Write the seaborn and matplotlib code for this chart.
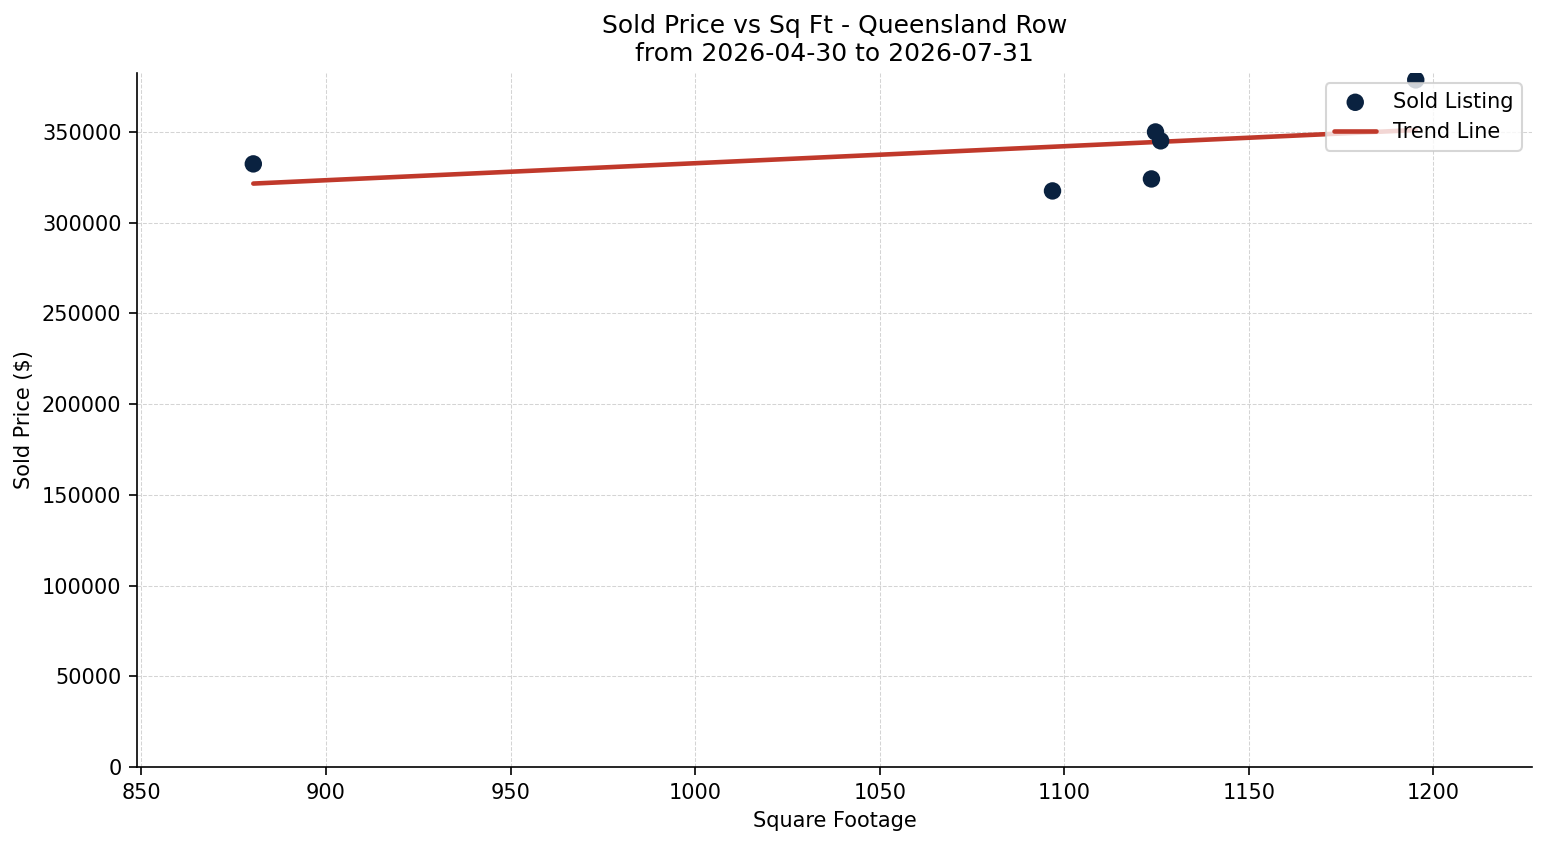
import numpy as np
import pandas as pd
import matplotlib
matplotlib.use("Agg")
import matplotlib.pyplot as plt
import seaborn as sns

# Sold listings
sqft = [880.3, 1096.8, 1123.6, 1124.7, 1126.1, 1195.2]
sold_price = [332400, 317500, 324100, 350000, 345100, 378700]

df = pd.DataFrame({"sqft": sqft, "price": sold_price})

sns.set_style("white", rc={
    "text.color": "black",
    "axes.labelcolor": "black",
    "xtick.color": "black",
    "ytick.color": "black",
    "axes.edgecolor": "black",
})
plt.rcParams["font.family"] = ["DejaVu Sans"]

fig, ax = plt.subplots(figsize=(1547 / 150, 845 / 150), dpi=150)

sns.scatterplot(data=df, x="sqft", y="price", ax=ax, color="#0a2240",
                s=70, edgecolor="none", label="Sold Listing", zorder=3)

# Linear trend
slope, intercept = np.polyfit(df["sqft"], df["price"], 1)
x_line = np.array([df["sqft"].min(), df["sqft"].max()])
sns.lineplot(x=x_line, y=slope * x_line + intercept, ax=ax, color="#c0392b",
             linewidth=2.2, label="Trend Line", zorder=2)

rng = df["sqft"].max() - df["sqft"].min()
ax.set_xlim(df["sqft"].min() - 0.1 * rng, df["sqft"].max() + 0.1 * rng)
ax.set_ylim(0, df["price"].max() * 1.01)

ax.grid(True, linestyle="--", linewidth=0.5, color="#d4d4d4")
ax.set_axisbelow(True)
sns.despine(ax=ax)
ax.tick_params(axis="both", direction="out", length=4, width=0.8, left=True, bottom=True)
ax.ticklabel_format(axis="y", style="plain")

ax.set_title("Sold Price vs Sq Ft - Queensland Row\nfrom 2026-04-30 to 2026-07-31", fontsize=12)
ax.set_xlabel("Square Footage")
ax.set_ylabel("Sold Price ($)")
ax.legend(loc="upper right")

fig.subplots_adjust(left=0.0886, right=0.9903, top=0.9136, bottom=0.0923)
fig.savefig("out.png", dpi=150)
